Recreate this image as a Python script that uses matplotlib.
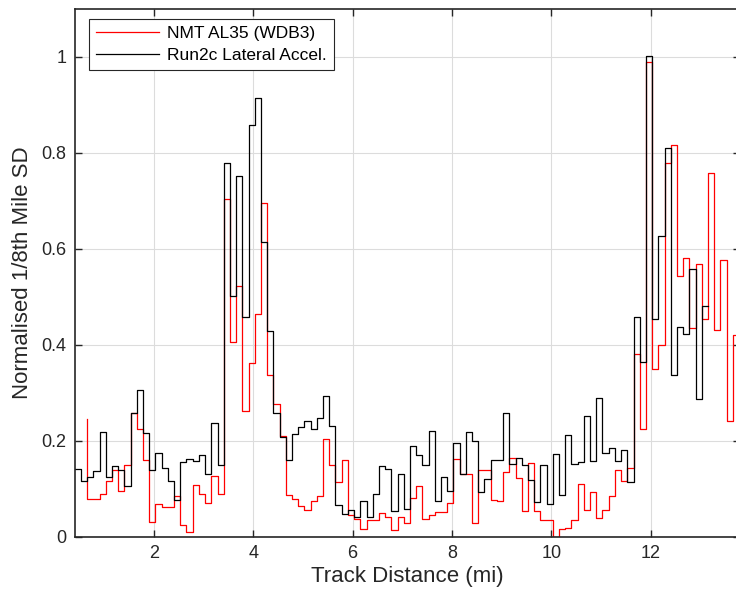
import numpy as np
import matplotlib
matplotlib.use("Agg")
import matplotlib.pyplot as plt

plt.rcParams['font.family'] = ['Liberation Sans', 'DejaVu Sans']

# 1/8th mile bins
bin_width = 0.125
black_start = 0.405   # first bin edge of the lateral accel series
red_start = 0.655     # first bin edge of the NMT series
red_lead = 0.245      # value just before the first visible red bin

run2c_sd = [0.141, 0.116,
            0.125, 0.136, 0.218, 0.125, 0.148, 0.138, 0.106, 0.258, 0.305, 0.216,
            0.139, 0.174, 0.144, 0.117, 0.077, 0.155, 0.161, 0.157, 0.170, 0.131,
            0.238, 0.150, 0.778, 0.501, 0.752, 0.457, 0.858, 0.915, 0.614, 0.428,
            0.257, 0.207, 0.160, 0.214, 0.228, 0.241, 0.225, 0.247, 0.294, 0.230,
            0.065, 0.047, 0.056, 0.040, 0.074, 0.040, 0.088, 0.148, 0.141, 0.054,
            0.130, 0.057, 0.188, 0.170, 0.150, 0.221, 0.075, 0.125, 0.096, 0.195,
            0.131, 0.219, 0.200, 0.093, 0.120, 0.159, 0.159, 0.257, 0.152, 0.164,
            0.150, 0.118, 0.073, 0.150, 0.068, 0.172, 0.087, 0.212, 0.151, 0.155,
            0.251, 0.158, 0.289, 0.174, 0.184, 0.158, 0.181, 0.115, 0.458, 0.364,
            1.002, 0.454, 0.626, 0.811, 0.338, 0.437, 0.422, 0.557, 0.287, 0.480]

nmt_sd = [0.078, 0.078, 0.089, 0.116, 0.139, 0.095, 0.150, 0.258, 0.225, 0.160,
          0.030, 0.068, 0.062, 0.062, 0.085, 0.024, 0.010, 0.108, 0.090, 0.070,
          0.127, 0.089, 0.703, 0.406, 0.522, 0.262, 0.362, 0.464, 0.696, 0.338,
          0.277, 0.209, 0.086, 0.079, 0.063, 0.056, 0.074, 0.084, 0.203, 0.150,
          0.113, 0.159, 0.045, 0.036, 0.015, 0.035, 0.035, 0.050, 0.042, 0.014,
          0.040, 0.029, 0.080, 0.106, 0.036, 0.045, 0.052, 0.051, 0.070, 0.161,
          0.130, 0.130, 0.029, 0.138, 0.140, 0.076, 0.074, 0.134, 0.164, 0.122,
          0.054, 0.153, 0.053, 0.034, 0.034, 0.000, 0.017, 0.019, 0.035, 0.110,
          0.056, 0.093, 0.038, 0.056, 0.084, 0.138, 0.116, 0.143, 0.381, 0.225,
          0.990, 0.350, 0.400, 0.779, 0.816, 0.543, 0.580, 0.435, 0.569, 0.454,
          0.759, 0.431, 0.576, 0.242, 0.420, 0.420]

x_ticks = [2, 4, 6, 8, 10, 12]
y_ticks = [0, 0.2, 0.4, 0.6, 0.8, 1]
y_tick_labels = ['0', '0.2', '0.4', '0.6', '0.8', '1']

fig = plt.figure(figsize=(7.36, 6.02), dpi=100)
# right edge of the axes sits just past the image border, as in the original
ax = fig.add_axes([0.1015, 0.1085, 0.904, 0.8766])

# step edges
b_edges = black_start + bin_width * np.arange(len(run2c_sd) + 1)
b_vals = run2c_sd + [run2c_sd[-1]]
r_edges = red_start + bin_width * np.arange(len(nmt_sd) + 1)
r_x = np.r_[red_start, r_edges]
r_vals = [red_lead] + nmt_sd + [nmt_sd[-1]]

ax.step(r_x, r_vals, where='post', color='#ff0000', lw=0.9, label='NMT AL35 (WDB3)')
ax.step(b_edges, b_vals, where='post', color='black', lw=0.9, label='Run2c Lateral Accel.')

ax.set_xlim(0.405, 13.80)
ax.set_ylim(0, 1.1)
ax.set_xticks(x_ticks)
ax.set_yticks(y_ticks)
ax.set_yticklabels(y_tick_labels)
ax.grid(True, color='#dcdcdc', lw=0.8)
ax.set_axisbelow(True)
for s in ax.spines.values():
    s.set_color('#262626')
    s.set_linewidth(1.2)
ax.tick_params(direction='in', length=5, width=1.0, colors='#262626',
               labelsize=13, top=True, right=True, pad=6)

ax.set_xlabel('Track Distance (mi)', fontsize=16, color='#262626', labelpad=3)
ax.set_ylabel('Normalised 1/8th Mile SD', fontsize=16, color='#262626', labelpad=6)

leg = ax.legend(loc='upper left', bbox_to_anchor=(0.0216, 0.9805), borderaxespad=0,
                fancybox=False, edgecolor='#262626', framealpha=1, fontsize=12.5,
                handlelength=3.6, handletextpad=0.5, borderpad=0.4, labelspacing=0.35)
leg.get_frame().set_linewidth(0.8)

fig.savefig('out.png', dpi=100)
